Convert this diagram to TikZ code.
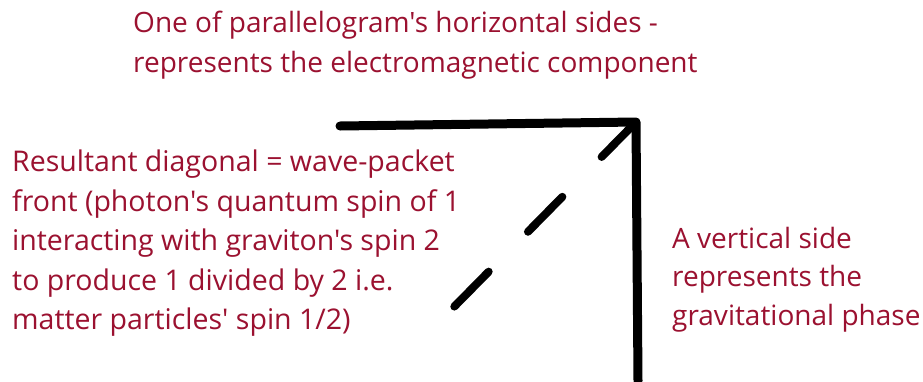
\documentclass[tikz,border=0pt]{standalone}
\usepackage{fontspec}
\newfontfamily\lblfont{Open Sans}
\definecolor{labelred}{RGB}{155,17,48}
\tikzset{
  lbl/.style={text=labelred, align=left, anchor=north west, inner sep=0pt,
    font=\lblfont\fontsize{28.5}{39.5}\selectfont},
  side/.style={line width=9pt, line cap=round, line join=round, black},
  diag/.style={line width=8pt, line cap=round, black, dash pattern=on 49pt off 56pt}
}
\begin{document}
\begin{tikzpicture}[x=1pt,y=-1pt]
\useasboundingbox[fill=white] (0,0) rectangle (923,381);
\coordinate (hstart) at (340,126);
\coordinate (corner) at (636,122);
\coordinate (vend) at (638,381);
\coordinate (dend) at (446,315);
\draw[side] (hstart) -- (corner) -- (vend);
\draw[diag] (corner) -- (dend);
\node[lbl, font=\lblfont\fontsize{28}{40}\selectfont] (top) at (133,10.5) {One of parallelogram's horizontal sides -\\represents the electromagnetic component};
\node[lbl] (left) at (12,150) {Resultant diagonal = wave-packet\\front (photon's quantum spin of 1\\interacting with graviton's spin 2\\to produce 1 divided by 2 i.e.\\matter particles' spin 1/2)};
\node[lbl, font=\lblfont\fontsize{28}{38.5}\selectfont] (right) at (672,227) {A vertical side\\represents the\\gravitational phase};
\end{tikzpicture}
\end{document}
